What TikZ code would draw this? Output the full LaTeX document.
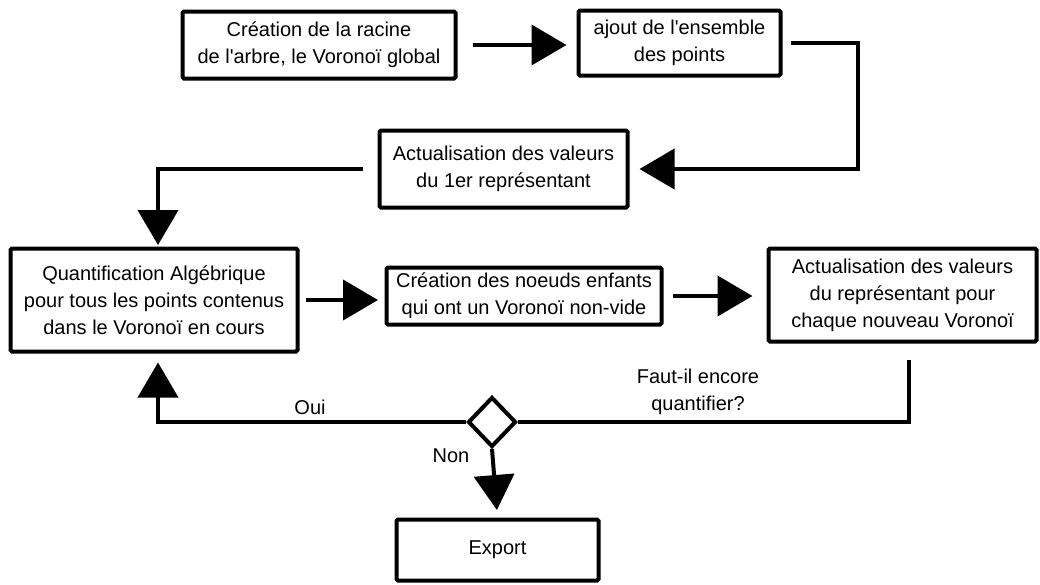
\documentclass[tikz,border=0pt]{standalone}
\usepackage{fontspec}
\setmainfont{Liberation Sans}
\usetikzlibrary{arrows.meta,shapes.geometric}
\begin{document}
\begin{tikzpicture}[x=1pt,y=-1pt,
  txt/.style={font=\fontsize{20}{27}\selectfont},
  box/.style={txt,draw,line width=4pt,rounded corners=1.5pt,align=center,inner sep=0pt},
  decision/.style={draw,diamond,line width=4pt,inner sep=0pt,minimum width=48pt,minimum height=50pt},
  conn/.style={line width=4pt},
  arr/.style={conn,-{Triangle[length=35pt,width=40pt]}},
  lab/.style={txt,align=center,inner sep=0pt}]
\useasboundingbox (0,0) rectangle (1040,584);

\node[box,minimum width=273pt,minimum height=67pt] (A) at (319,45) {Création de la racine\\de l\textquotesingle arbre, le Voronoï global};
\node[box,minimum width=202pt,minimum height=65pt] (B) at (679.5,43) {ajout de l\textquotesingle ensemble\\des points};
\node[box,minimum width=248pt,minimum height=77pt] (C) at (503.5,169) {Actualisation des valeurs\\du 1er représentant};
\node[box,minimum width=287pt,minimum height=103pt] (D) at (154,300) {Quantification Algébrique\\pour tous les points contenus\\dans le Voronoï en cours};
\node[box,minimum width=275pt,minimum height=57pt] (E) at (524,296) {Création des noeuds enfants\\qui ont un Voronoï non-vide};
\node[box,minimum width=268pt,minimum height=93pt] (F) at (902.5,295) {Actualisation des valeurs\\du représentant pour\\chaque nouveau Voronoï};
\node[decision] (G) at (492,422) {};
\node[box,minimum width=202pt,minimum height=61pt] (H) at (497.5,550) {Export};

\node[lab] (oui) at (310,407) {Oui};
\node[lab] (non) at (451,456) {Non};
\node[lab] (q) at (698,392) {Faut-il encore\\quantifier?};

\draw[arr,shorten <=15pt,shorten >=10pt] (A.east) -- (A.east -| B.west);
\coordinate (bc) at ([xshift=75.5pt]B.east);
\draw[arr,shorten >=10pt] ([xshift=8.5pt]B.east) -- (bc) |- (C.east);
\draw[arr,shorten >=1.5pt] ([xshift=-15pt]C.west) -| ([xshift=4pt]D.north);
\draw[arr,shorten <=6pt,shorten >=6.5pt] (D.east) -- (D.east -| E.west);
\draw[arr,shorten <=9pt,shorten >=14pt] (E.east) -- (E.east -| F.west);
\draw[conn] ([xshift=6.5pt,yshift=-16pt]F.south) |- (G.east);
\draw[arr,shorten >=9pt] (G.west) -| ([xshift=4pt]D.south);
\draw[arr,shorten >=7.5pt] (G.south) -- (H.north);
\end{tikzpicture}
\end{document}
